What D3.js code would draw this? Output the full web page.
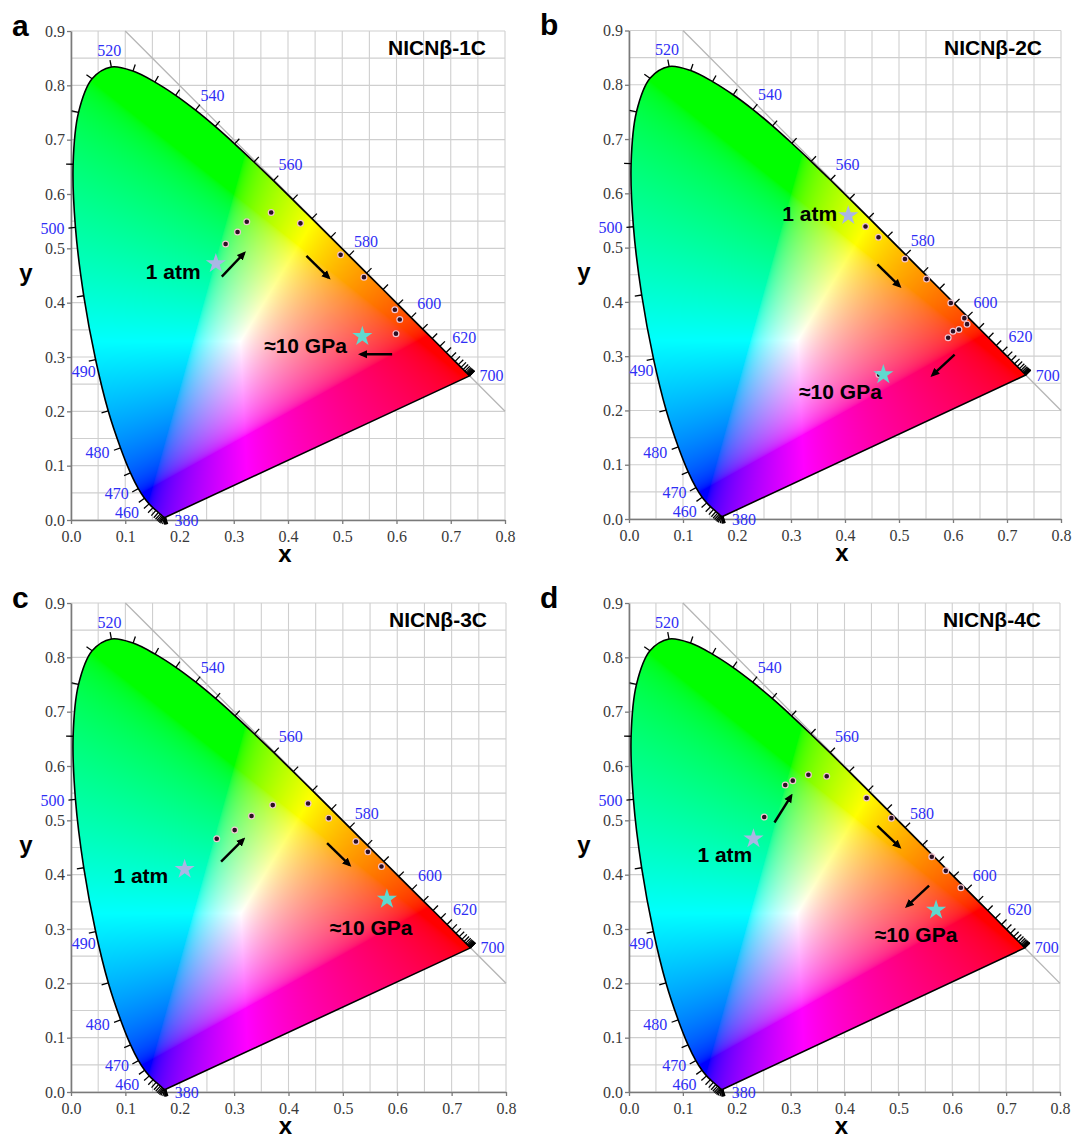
<!DOCTYPE html>
<html><head><meta charset="utf-8">
<script src="https://cdn.jsdelivr.net/npm/d3@7"></script>
<style>body{margin:0;background:#fff} svg{display:block}</style>
</head><body>
<svg id="chart" width="1079" height="1140"></svg>
<script>
// ---- CIE 1931 2° spectral locus (5 nm steps) ----
const wavelengths = [380,385,390,395,400,405,410,415,420,425,430,435,440,445,450,455,460,465,470,475,480,485,490,495,500,505,510,515,520,525,530,535,540,545,550,555,560,565,570,575,580,585,590,595,600,605,610,615,620,625,630,635,640,645,650,655,660,665,670,675,680,685,690,695,700];
const locusX = [0.1741,0.1740,0.1738,0.1736,0.1733,0.1730,0.1726,0.1721,0.1714,0.1703,0.1689,0.1669,0.1644,0.1611,0.1566,0.1510,0.1440,0.1355,0.1241,0.1096,0.0913,0.0687,0.0454,0.0235,0.0082,0.0039,0.0139,0.0389,0.0743,0.1142,0.1547,0.1929,0.2296,0.2658,0.3016,0.3373,0.3731,0.4087,0.4441,0.4788,0.5125,0.5448,0.5752,0.6029,0.6270,0.6482,0.6658,0.6801,0.6915,0.7006,0.7079,0.7140,0.7190,0.7230,0.7260,0.7283,0.7300,0.7311,0.7320,0.7327,0.7334,0.7340,0.7344,0.7346,0.7347];
const locusY = [0.0050,0.0050,0.0049,0.0049,0.0048,0.0048,0.0048,0.0048,0.0051,0.0058,0.0069,0.0086,0.0109,0.0138,0.0177,0.0227,0.0297,0.0399,0.0578,0.0868,0.1327,0.2007,0.2950,0.4127,0.5384,0.6548,0.7502,0.8120,0.8338,0.8262,0.8059,0.7816,0.7543,0.7243,0.6923,0.6589,0.6245,0.5896,0.5547,0.5202,0.4866,0.4544,0.4242,0.3965,0.3725,0.3514,0.3340,0.3197,0.3083,0.2993,0.2920,0.2859,0.2809,0.2770,0.2740,0.2717,0.2700,0.2689,0.2680,0.2673,0.2666,0.2660,0.2656,0.2654,0.2653];
const wlLabels = [380,460,470,480,490,500,520,540,560,580,600,620,700];

// ---- axes ----
const xTicks = [0.0,0.1,0.2,0.3,0.4,0.5,0.6,0.7,0.8];
const yTicks = [0.0,0.1,0.2,0.3,0.4,0.5,0.6,0.7,0.8,0.9];

// ---- panels ----
const panelLetters = ["a","b","c","d"];
const panelNames = ["NICNβ-1C","NICNβ-2C","NICNβ-3C","NICNβ-4C"];

// CIE points under pressure
const pts1C_x = [0.285,0.307,0.324,0.369,0.423,0.497,0.540,0.597,0.606,0.599];
const pts1C_y = [0.508,0.530,0.549,0.566,0.546,0.488,0.447,0.387,0.369,0.343];
const pts2C_x = [0.438,0.462,0.511,0.551,0.596,0.621,0.626,0.611,0.600,0.591,0.463];
const pts2C_y = [0.539,0.519,0.479,0.442,0.398,0.370,0.359,0.349,0.346,0.334,0.266];
const pts3C_x = [0.268,0.301,0.332,0.371,0.436,0.474,0.524,0.546,0.571];
const pts3C_y = [0.466,0.482,0.508,0.528,0.531,0.504,0.461,0.442,0.415];
const pts4C_x = [0.251,0.290,0.304,0.333,0.367,0.441,0.487,0.562,0.588,0.616];
const pts4C_y = [0.506,0.565,0.573,0.584,0.581,0.541,0.504,0.433,0.407,0.376];

// 1 atm and ≈10 GPa stars
const atmX = [0.267,0.406,0.209,0.231];
const atmY = [0.472,0.559,0.410,0.466];
const gpaX = [0.537,0.471,0.581,0.570];
const gpaY = [0.338,0.266,0.355,0.335];

// arrows [x1,y1,x2,y2] in chromaticity units
const arrows1C = [[0.278,0.448,0.319,0.491],[0.434,0.486,0.475,0.446],[0.592,0.305,0.534,0.305]];
const arrows2C = [[0.460,0.469,0.501,0.429],[0.603,0.303,0.562,0.265]];
const arrows3C = [[0.276,0.424,0.317,0.465],[0.471,0.458,0.512,0.418]];
const arrows4C = [[0.270,0.496,0.301,0.545],[0.461,0.490,0.502,0.451],[0.557,0.380,0.516,0.342]];

// annotation anchors (start of text)
const atmLabelX = [0.138,0.284,0.078,0.127];
const atmLabelY = [0.458,0.563,0.399,0.437];
const gpaLabelX = [0.356,0.315,0.476,0.456];
const gpaLabelY = [0.320,0.235,0.303,0.290];

// ---- layout (pixels) ----
const layout = [
  {left:71, right:505, top:31, bottom:520, lx:12, ly:36},
  {left:629, right:1061, top:30.5, bottom:519, lx:540, ly:35},
  {left:71, right:506, top:603, bottom:1092, lx:12, ly:608},
  {left:629, right:1060, top:603, bottom:1092, lx:540, ly:608}
];
const wlOffset = {380:[21,3],460:[-22,9],470:[-21.6,5],480:[-23,5],490:[-12,11.5],500:[-23,1],520:[-2,-17],540:[17,-15],560:[17,-16],580:[17,-14],600:[18,-14],620:[18,-15],700:[22,0]};

const pointSets = [[pts1C_x,pts1C_y],[pts2C_x,pts2C_y],[pts3C_x,pts3C_y],[pts4C_x,pts4C_y]];
const arrowSets = [arrows1C,arrows2C,arrows3C,arrows4C];

const svg = d3.select('#chart');
const defs = svg.append('defs');
defs.append('marker').attr('id','arrowHead').attr('viewBox','0 0 10 10')
  .attr('refX',7).attr('refY',5).attr('markerWidth',9).attr('markerHeight',9)
  .attr('markerUnits','userSpaceOnUse').attr('orient','auto')
  .append('path').attr('d','M0,0.5 L10,5 L0,9.5 Z').attr('fill','#000');

function gammaEnc(c){ return c <= 0.0031308 ? 12.92*c : 1.055*Math.pow(c,1/2.4)-0.055; }

function makeFill(x, y){
  const x0 = Math.floor(x(0)), x1 = Math.ceil(x(0.75));
  const yTop = Math.floor(y(0.85)), yBot = Math.ceil(y(0));
  const w = x1-x0, h = yBot-yTop;
  const cv = document.createElement('canvas'); cv.width = w; cv.height = h;
  const ctx = cv.getContext('2d');
  const img = ctx.createImageData(w,h);
  for (let j=0;j<h;j++){
    let cy = y.invert(yTop+j+0.5); if (cy < 0.002) cy = 0.002;
    for (let i=0;i<w;i++){
      const cx = x.invert(x0+i+0.5);
      const X = cx/cy, Y = 1, Z = (1-cx-cy)/cy;
      let r = 3.2406*X - 1.5372*Y - 0.4986*Z;
      let g = -0.9689*X + 1.8758*Y + 0.0415*Z;
      let b = 0.0557*X - 0.2040*Y + 1.0570*Z;
      r = Math.max(r,0); g = Math.max(g,0); b = Math.max(b,0);
      const m = Math.max(r,g,b) || 1;
      const k = (j*w+i)*4;
      img.data[k] = Math.round(255*gammaEnc(r/m));
      img.data[k+1] = Math.round(255*gammaEnc(g/m));
      img.data[k+2] = Math.round(255*gammaEnc(b/m));
      img.data[k+3] = 255;
    }
  }
  ctx.putImageData(img,0,0);
  return {url: cv.toDataURL(), x:x0, y:yTop, w, h};
}

layout.forEach((L, p) => {
  const x = d3.scaleLinear().domain([0,0.8]).range([L.left, L.right]);
  const y = d3.scaleLinear().domain([0,0.9]).range([L.bottom, L.top]);
  const g = svg.append('g');

  // grid
  const gx = d3.range(0, 0.8001, 0.05), gy = d3.range(0, 0.9001, 0.05);
  g.append('g').selectAll('line').data(gx).join('line')
    .attr('x1', d=>x(d)).attr('x2', d=>x(d)).attr('y1', y(0)).attr('y2', y(0.9))
    .attr('stroke','#cfcfcf').attr('stroke-width',1.1);
  g.append('g').selectAll('line').data(gy).join('line')
    .attr('y1', d=>y(d)).attr('y2', d=>y(d)).attr('x1', x(0)).attr('x2', x(0.8))
    .attr('stroke','#cfcfcf').attr('stroke-width',1.1);

  // x + y = 1 line
  g.append('line').attr('x1',x(0.1)).attr('y1',y(0.9)).attr('x2',x(0.8)).attr('y2',y(0.2))
    .attr('stroke','#b5b5b5').attr('stroke-width',1.3);

  // axes
  const ax = g.append('g').attr('transform',`translate(0,${y(0)})`)
    .call(d3.axisBottom(x).tickValues(xTicks).tickFormat(d3.format('.1f')).tickSize(4).tickSizeOuter(0));
  const ay = g.append('g').attr('transform',`translate(${x(0)},0)`)
    .call(d3.axisLeft(y).tickValues(yTicks).tickFormat(d3.format('.1f')).tickSize(4).tickSizeOuter(0));
  [ax, ay].forEach(a => {
    a.select('.domain').attr('stroke','#7a7a7a').attr('stroke-width',1.6);
    a.selectAll('.tick line').attr('stroke','#7a7a7a').attr('stroke-width',1.3);
    a.selectAll('.tick text').attr('font-family','"Liberation Serif", "Times New Roman", serif')
      .attr('font-size',16).attr('fill','#3a3a3a');
  });
  ax.selectAll('.tick text').attr('dy','0.95em');
  ay.selectAll('.tick text').attr('x',-6);

  // colour fill clipped by (smoothed) locus
  const idx = d3.range(wavelengths.length);
  const locusPath = d3.line().curve(d3.curveCatmullRom.alpha(0.5))
    .x(i=>x(locusX[i])).y(i=>y(locusY[i]))(idx) + 'Z';
  defs.append('clipPath').attr('id','locusClip'+p).append('path').attr('d', locusPath);
  const F = makeFill(x, y);
  g.append('image').attr('href', F.url).attr('x',F.x).attr('y',F.y)
    .attr('width',F.w).attr('height',F.h).attr('preserveAspectRatio','none')
    .attr('clip-path',`url(#locusClip${p})`);
  g.append('path').attr('d', locusPath).attr('fill','none').attr('stroke','#000').attr('stroke-width',1.6)
    .attr('stroke-linejoin','round');

  // wavelength ticks (outward normals)
  const pix = idx.map(i => [x(locusX[i]), y(locusY[i])]);
  const ticks = idx.map(i => {
    const a = pix[Math.max(i-1,0)], b = pix[Math.min(i+1,pix.length-1)];
    let tx = b[0]-a[0], ty = b[1]-a[1];
    const len = Math.hypot(tx,ty) || 1; tx/=len; ty/=len;
    const nx = ty, ny = -tx;
    return [pix[i][0], pix[i][1], pix[i][0]+nx*7, pix[i][1]+ny*7];
  });
  g.append('g').selectAll('line').data(ticks).join('line')
    .attr('x1',d=>d[0]).attr('y1',d=>d[1]).attr('x2',d=>d[2]).attr('y2',d=>d[3])
    .attr('stroke','#000').attr('stroke-width',1.3);

  // wavelength labels
  g.append('g').selectAll('text').data(wlLabels).join('text')
    .attr('x', w => x(locusX[wavelengths.indexOf(w)]) + wlOffset[w][0])
    .attr('y', w => y(locusY[wavelengths.indexOf(w)]) + wlOffset[w][1])
    .attr('dy','0.35em').attr('text-anchor','middle')
    .attr('font-family','"Liberation Serif", "Times New Roman", serif').attr('font-size',16)
    .attr('fill','#2f2ff5').text(w => w);

  // data points
  const [px, py] = pointSets[p];
  g.append('g').selectAll('circle').data(d3.range(px.length)).join('circle')
    .attr('cx', i=>x(px[i])).attr('cy', i=>y(py[i])).attr('r',2.9)
    .attr('fill','#2a0f22').attr('stroke','#f3c6d2').attr('stroke-width',1.2);

  // arrows
  g.append('g').selectAll('line').data(arrowSets[p]).join('line')
    .attr('x1',d=>x(d[0])).attr('y1',d=>y(d[1])).attr('x2',d=>x(d[2])).attr('y2',d=>y(d[3]))
    .attr('stroke','#000').attr('stroke-width',2.4).attr('marker-end','url(#arrowHead)');

  // stars
  const star = d3.symbol(d3.symbolStar, 125);
  g.append('path').attr('d', star()).attr('transform',`translate(${x(atmX[p])},${y(atmY[p])})`)
    .attr('fill','#aab6e4');
  g.append('path').attr('d', star()).attr('transform',`translate(${x(gpaX[p])},${y(gpaY[p])})`)
    .attr('fill','#5fd9cf');

  const sans = '"Liberation Sans", Arial, Helvetica, sans-serif';
  g.append('text').attr('x',x(atmLabelX[p])).attr('y',y(atmLabelY[p])).attr('dy','0.35em')
    .attr('font-family',sans).attr('font-weight','bold').attr('font-size',21).text('1 atm');
  g.append('text').attr('x',x(gpaLabelX[p])).attr('y',y(gpaLabelY[p])).attr('dy','0.35em')
    .attr('font-family',sans).attr('font-weight','bold').attr('font-size',21).text('≈10 GPa');

  // panel title
  g.append('text').attr('x', L.right-19).attr('y', L.top+17).attr('dy','0.35em')
    .attr('text-anchor','end').attr('font-family',sans).attr('font-weight','bold')
    .attr('font-size',21).text(panelNames[p]);

  // axis titles
  g.append('text').attr('x', x(0.4)-3).attr('y', L.bottom+42).attr('text-anchor','middle')
    .attr('font-family',sans).attr('font-weight','bold').attr('font-size',24).text('x');
  g.append('text').attr('x', L.left-45).attr('y', y(0.45)+5).attr('text-anchor','middle')
    .attr('font-family',sans).attr('font-weight','bold').attr('font-size',24).text('y');

  // panel letter
  g.append('text').attr('x', L.lx).attr('y', L.ly)
    .attr('font-family',sans).attr('font-weight','bold').attr('font-size',30).text(panelLetters[p]);
});
</script>
</body></html>
